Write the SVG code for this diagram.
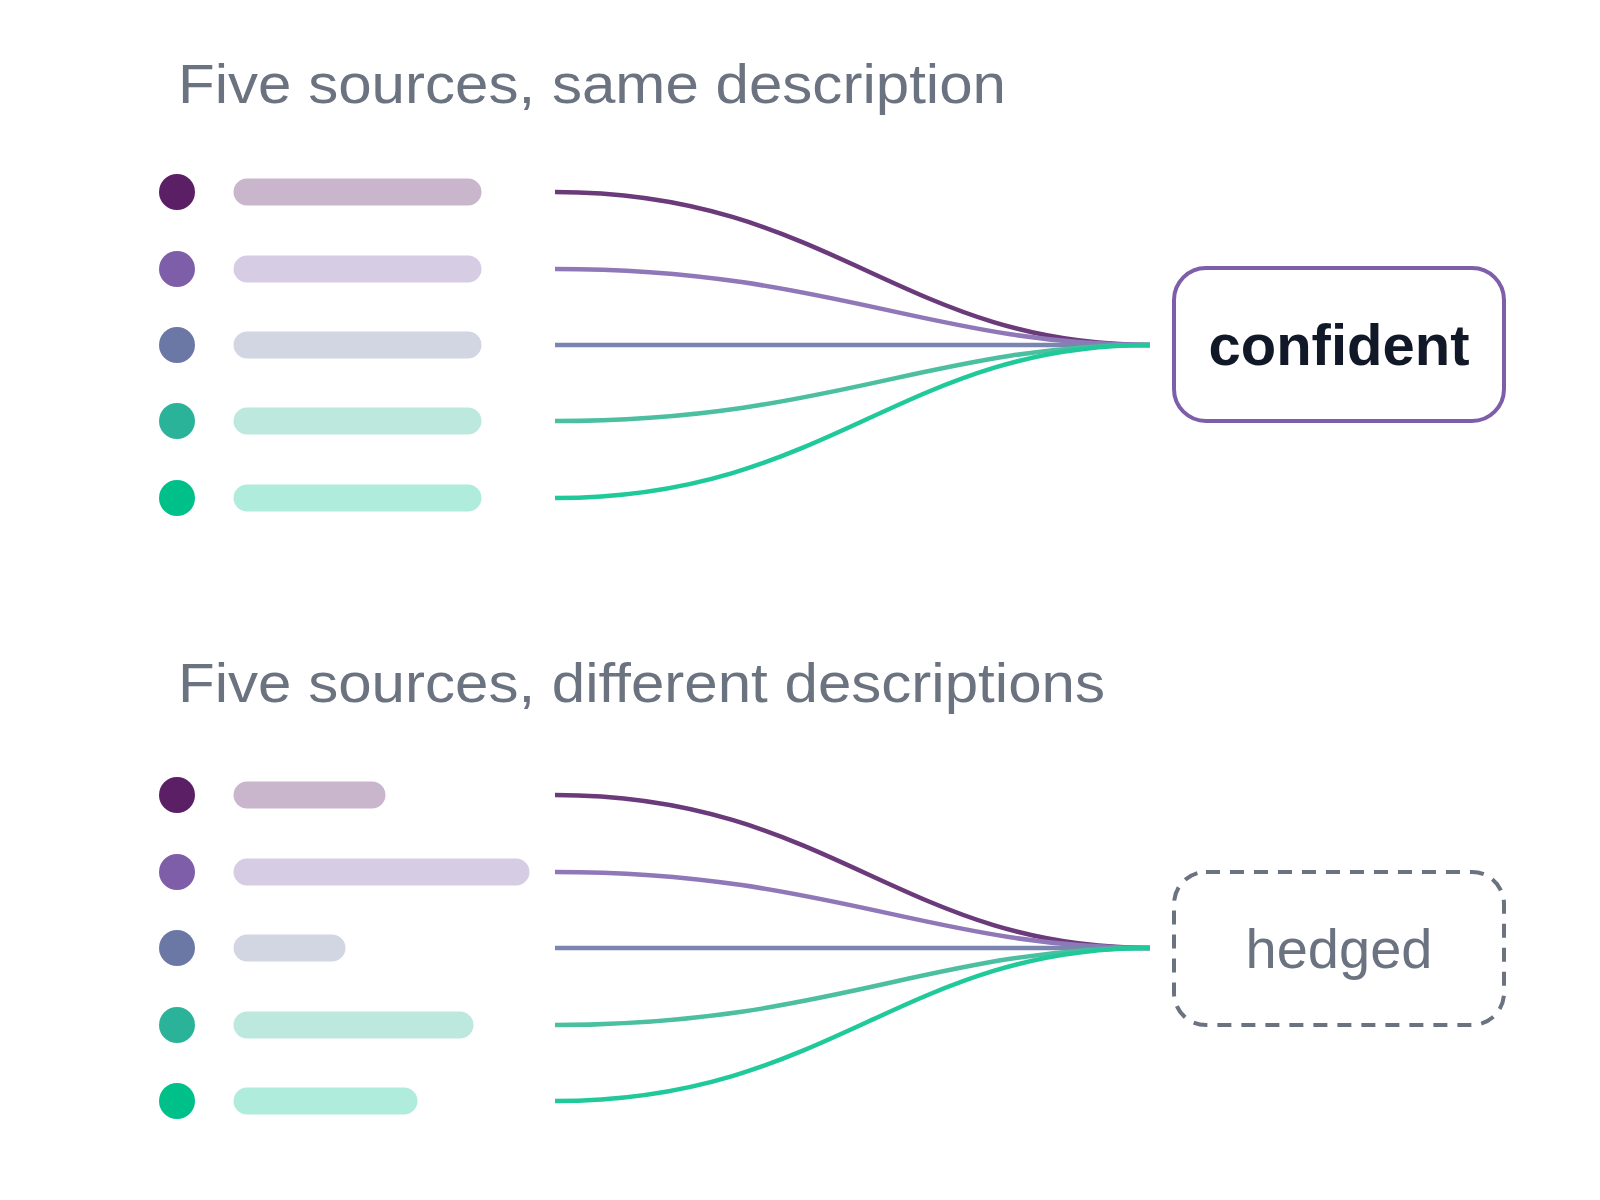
<svg xmlns="http://www.w3.org/2000/svg" width="1600" height="1200" viewBox="0 0 1600 1200">
<style>
.t{font-family:"Liberation Sans",Arial,sans-serif;font-size:56px;fill:#6b7280}
.bar{stroke-linecap:round;stroke-width:27;fill:none}
.c{fill:none;stroke-width:4.5}
</style>
<rect width="1600" height="1200" fill="#fff"/>
<text class="t" x="178" y="103" textLength="828" lengthAdjust="spacingAndGlyphs">Five sources, same description</text>
<text class="t" x="178" y="702" textLength="927" lengthAdjust="spacingAndGlyphs">Five sources, different descriptions</text>
<g id="sources-top">
<circle cx="177" cy="192" r="18" fill="#5b1f66"/><line class="bar" x1="247" y1="192" x2="468" y2="192" stroke="#c9b5cc"/>
<circle cx="177" cy="269" r="18" fill="#7e5ea8"/><line class="bar" x1="247" y1="269" x2="468" y2="269" stroke="#d6cce4"/>
<circle cx="177" cy="345" r="18" fill="#6b78a6"/><line class="bar" x1="247" y1="345" x2="468" y2="345" stroke="#d2d6e3"/>
<circle cx="177" cy="421" r="18" fill="#2bb39a"/><line class="bar" x1="247" y1="421" x2="468" y2="421" stroke="#bde8de"/>
<circle cx="177" cy="498" r="18" fill="#00c08a"/><line class="bar" x1="247" y1="498" x2="468" y2="498" stroke="#b0ecdc"/>
</g>
<g id="sources-bottom">
<circle cx="177" cy="795" r="18" fill="#5b1f66"/><line class="bar" x1="247" y1="795" x2="372" y2="795" stroke="#c9b5cc"/>
<circle cx="177" cy="872" r="18" fill="#7e5ea8"/><line class="bar" x1="247" y1="872" x2="516" y2="872" stroke="#d6cce4"/>
<circle cx="177" cy="948" r="18" fill="#6b78a6"/><line class="bar" x1="247" y1="948" x2="332" y2="948" stroke="#d2d6e3"/>
<circle cx="177" cy="1025" r="18" fill="#2bb39a"/><line class="bar" x1="247" y1="1025" x2="460" y2="1025" stroke="#bde8de"/>
<circle cx="177" cy="1101" r="18" fill="#00c08a"/><line class="bar" x1="247" y1="1101" x2="404" y2="1101" stroke="#b0ecdc"/>
</g>
<g id="connectors">
<path class="c" stroke="#6b3a7a" d="M555,192 C830,192 900,345 1150,345"/>
<path class="c" stroke="#8f77b8" d="M555,269 C830,269 930,345 1150,345"/>
<path class="c" stroke="#7b86b0" d="M555,345 L1150,345"/>
<path class="c" stroke="#4bbfa0" d="M555,421 C830,421 930,345 1150,345"/>
<path class="c" stroke="#20c99a" d="M555,498 C830,498 900,345 1150,345"/>
<path class="c" stroke="#6b3a7a" d="M555,795 C830,795 900,948 1150,948"/>
<path class="c" stroke="#8f77b8" d="M555,872 C830,872 930,948 1150,948"/>
<path class="c" stroke="#7b86b0" d="M555,948 L1150,948"/>
<path class="c" stroke="#4bbfa0" d="M555,1025 C830,1025 930,948 1150,948"/>
<path class="c" stroke="#20c99a" d="M555,1101 C830,1101 900,948 1150,948"/>
</g>
<g id="confident">
<rect x="1174" y="268" width="330" height="153" rx="32" fill="#fff" stroke="#7e5ea8" stroke-width="4"/>
<text x="1339" y="365" text-anchor="middle" font-family="Liberation Sans,Arial,sans-serif" font-size="58" font-weight="bold" fill="#111827">confident</text>
</g>
<g id="hedged">
<rect x="1174" y="872" width="330" height="153" rx="32" fill="#fff" stroke="#6b7280" stroke-width="4" stroke-dasharray="14,10"/>
<text x="1339" y="968" text-anchor="middle" class="t" font-size="58">hedged</text>
</g>
</svg>
